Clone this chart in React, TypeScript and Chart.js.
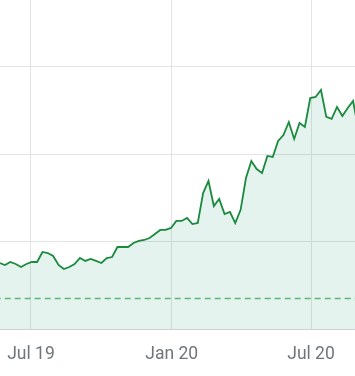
import React, { useEffect, useRef } from "react";
import { Chart, registerables } from "chart.js";

Chart.register(...registerables);

// Weekly series, first point on START_DATE, one point every 7 days
const START_DATE = "2019-05-21";
const AXIS_ZERO_DATE = "2019-07-01";
const WEEKLY_VALUES = [
  75.6, 73.3, 76.7, 74.4, 71.0, 74.4, 76.7, 76.7, 88.2, 87.0,
  83.6, 73.3, 68.7, 71.0, 74.4, 81.3, 77.9, 80.2, 77.9, 75.6,
  81.3, 82.4, 93.9, 93.9, 93.9, 98.5, 100.8, 101.9, 104.2, 108.8,
  113.4, 113.4, 115.7, 123.7, 123.7, 127.1, 120.2, 121.4, 155.7, 169.5,
  140.8, 148.9, 131.7, 134.0, 121.4, 136.5, 172.9, 192.4, 183.2, 178.6,
  198.1, 197.0, 215.3, 222.1, 237.0, 217.6, 235.9, 231.3, 264.5, 265.7,
  273.7, 242.8, 240.5, 254.2, 243.9, 253.1, 261.1, 227.9,
];
const BASELINE_VALUE = 35;
const TICK_DATES = ["2019-07-01", "2020-01-01", "2020-07-01"];
const TICK_LABELS = ["Jul 19", "Jan 20", "Jul 20"];
const Y_GRID_VALUES = [0, 100, 200, 300];
const X_VIEW_DAYS = [-40.5, 423.5];
const Y_VIEW = [0, 376.7];

const DAY_MS = 86400000;
const dayOf = (d: string) => (Date.parse(d) - Date.parse(AXIS_ZERO_DATE)) / DAY_MS;

export default function App() {
  const canvasRef = useRef<HTMLCanvasElement | null>(null);

  useEffect(() => {
    const ctx = canvasRef.current;
    if (!ctx) return;
    const start = dayOf(START_DATE);
    const series = WEEKLY_VALUES.map((v, i) => ({ x: start + i * 7, y: v }));
    const baseline = [
      { x: X_VIEW_DAYS[0] - 20, y: BASELINE_VALUE },
      { x: X_VIEW_DAYS[1] + 20, y: BASELINE_VALUE },
    ];
    const chart = new Chart(ctx, {
      type: "line",
      data: {
        datasets: [
          {
            data: series,
            borderColor: "#1a8a3e",
            borderWidth: 1.8,
            backgroundColor: "rgba(30,160,110,0.12)",
            fill: "origin",
            pointRadius: 0,
            tension: 0,
            order: 1,
          },
          {
            data: baseline,
            borderColor: "#5bb974",
            borderWidth: 1.4,
            borderDash: [6, 4],
            fill: false,
            pointRadius: 0,
            order: 0,
          },
        ],
      },
      options: {
        animation: false,
        responsive: false,
        devicePixelRatio: 1,
        layout: { padding: { left: 0, right: 0, top: 0, bottom: 11 } },
        plugins: { legend: { display: false }, tooltip: { enabled: false } },
        scales: {
          x: {
            type: "linear",
            min: X_VIEW_DAYS[0],
            max: X_VIEW_DAYS[1],
            afterBuildTicks: (scale: any) => {
              scale.ticks = TICK_DATES.map((d) => ({ value: dayOf(d) }));
            },
            ticks: {
              autoSkip: false,
              maxRotation: 0,
              padding: 0,
              color: "#70757a",
              font: { family: "Roboto", size: 17.5 },
              callback: (_v: any, i: number) => TICK_LABELS[i],
            },
            grid: {
              color: "#e3e3e3",
              lineWidth: 1,
              drawTicks: true,
              tickLength: 15,
              tickColor: "rgba(0,0,0,0)",
            },
            border: { display: true, color: "#ccd3d6", width: 1 },
          },
          y: {
            type: "linear",
            min: Y_VIEW[0],
            max: Y_VIEW[1],
            afterBuildTicks: (scale: any) => {
              scale.ticks = Y_GRID_VALUES.map((v) => ({ value: v }));
            },
            ticks: { display: false },
            grid: { color: "#e3e3e3", lineWidth: 1, drawTicks: false },
            border: { display: false },
          },
        },
      },
    });
    return () => chart.destroy();
  }, []);

  return (
    <div style={{ position: "absolute", left: 0, top: 0, width: 355, height: 376, background: "#fff" }}>
      <canvas ref={canvasRef} width={355} height={376} style={{ display: "block", width: 355, height: 376 }} />
    </div>
  );
}
